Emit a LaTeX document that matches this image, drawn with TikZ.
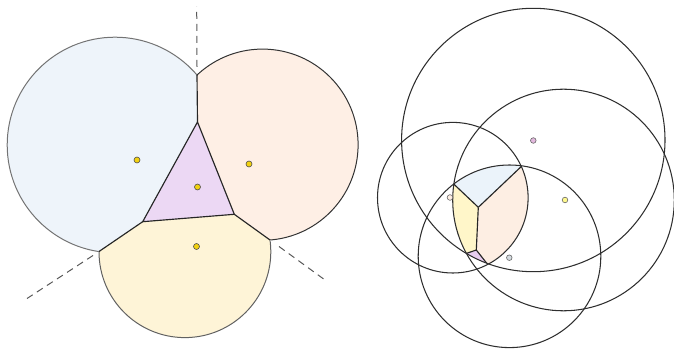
\documentclass[tikz,border=0pt]{standalone}
\usetikzlibrary{calc}
\definecolor{cblue}{HTML}{EEF4FA}
\definecolor{corange}{HTML}{FEEFE5}
\definecolor{cyellow}{HTML}{FEF4D7}
\definecolor{cpurple}{HTML}{ECD8F4}
\definecolor{rblue}{HTML}{EBF3FA}
\definecolor{rorange}{HTML}{FDEEE3}
\definecolor{ryellow}{HTML}{FFF6C9}
\definecolor{rpurple}{HTML}{E7CDF0}
\definecolor{dotyellow}{HTML}{F2D110}
\tikzset{
  rim/.style={line width=1pt},
  edge/.style={line width=1.15pt, draw=black!85},
  rayline/.style={line width=1pt, draw=black!65, dashed, dash pattern=on 7pt off 5pt},
  site/.style={circle, inner sep=0pt, minimum size=6pt, draw=black!70, line width=0.6pt, fill=dotyellow},
  rsite/.style={circle, inner sep=0pt, minimum size=5.6pt, draw=black!60, line width=0.6pt},
  ring/.style={line width=1.05pt, draw=black!82},
}
\begin{document}
\begin{tikzpicture}[x=1pt,y=-1pt]
\useasboundingbox (0,0) rectangle (674,352);
% ---------------- left figure ----------------
\coordinate (T) at (197.5,122);
\coordinate (L) at (142.7,221.7);
\coordinate (R) at (234.3,214.3);
\coordinate (BO) at (197,75);
\coordinate (BY) at (99,251.5);
\coordinate (OY) at (270,240);
\coordinate (cB) at (115,145);
\coordinate (cO) at (262.5,144.7);
\coordinate (cY) at (184.9,251.7);
% blue cell
\begin{scope}
  \clip (196.1,-10) -- (T) -- (L) -- (11.6,311.1) -- (-20,311) -- (-20,-10) -- cycle;
  \fill[cblue] (cB) circle[radius=107.8pt];
  \draw[rim, draw=black!55] (cB) circle[radius=107.8pt];
\end{scope}
% orange cell
\begin{scope}
  \clip (196.1,-10) -- (T) -- (R) -- (377.1,317.1) -- (390,317) -- (390,-10) -- cycle;
  \fill[corange] (cO) circle[radius=95.6pt];
  \draw[rim, draw=black!80] (cO) circle[radius=95.6pt];
\end{scope}
% yellow cell
\begin{scope}
  \clip (L) -- (R) -- (377.1,317.1) -- (377,360) -- (0,360) -- (11.6,311.1) -- cycle;
  \fill[cyellow] (cY) circle[radius=85.9pt];
  \draw[rim, draw=black!62] (cY) circle[radius=85.9pt];
\end{scope}
% purple cell
\fill[cpurple] (T) -- (L) -- (R) -- cycle;
\draw[edge, line join=round] (T) -- (L) -- (R) -- cycle;
\draw[edge] (T) -- (BO);
\draw[edge] (L) -- (BY);
\draw[edge] (R) -- (OY);
% dashed continuations
\coordinate (d1a) at (197,67);   \coordinate (d1b) at (196.7,7);
\coordinate (d2a) at (93,255.5); \coordinate (d2b) at (27,298.5);
\coordinate (d3a) at (279,246.5);\coordinate (d3b) at (325,280);
\draw[rayline] (d1a) -- (d1b);
\draw[rayline] (d2a) -- (d2b);
\draw[rayline] (d3a) -- (d3b);
% sites
\node[site] (sB) at (137,160) {};
\node[site] (sO) at (249,164) {};
\node[site] (sP) at (197.5,187) {};
\node[site] (sY) at (196.5,246.5) {};
% ---------------- right figure ----------------
\coordinate (k1) at (533.3,140);
\coordinate (k2) at (563.5,200);
\coordinate (k3) at (452.8,197.7);
\coordinate (k4) at (509.5,256.3);
\coordinate (C) at (478.3,207.3);
\coordinate (TL) at (454,184.3);
\coordinate (TR) at (521.2,166.6);
\coordinate (Bq) at (476.3,250);
\coordinate (P1) at (466.7,253.3);
\coordinate (P2) at (487.3,264);
\begin{scope}
  \clip (k1) circle[radius=131.7pt];
  \clip (k2) circle[radius=110.8pt];
  \clip (k3) circle[radius=75.3pt];
  \clip (k4) circle[radius=91.3pt];
  \fill[rorange] (370,100) rectangle (674,352);
  \fill[rblue] (C) -- ($(C)!3!(TL)$) -- ($(C)!3!(TR)$) -- cycle;
  \fill[ryellow] (C) -- ($(C)!3!(TL)$) -- (400,259.9) -- ($(Bq)!3!(P1)$) -- (Bq) -- cycle;
  \fill[rpurple] (Bq) -- ($(Bq)!3!(P1)$) -- (447.5,300) -- (509.3,300) -- ($(Bq)!3!(P2)$) -- cycle;
  \draw[edge] (C) -- ($(C)!3!(TL)$);
  \draw[edge] (C) -- ($(C)!3!(TR)$);
  \draw[edge] (C) -- (Bq);
  \draw[edge, line join=round] ($(Bq)!3!(P1)$) -- (Bq) -- ($(Bq)!3!(P2)$);
\end{scope}
\draw[ring] (k1) circle[radius=131.7pt];
\draw[ring] (k2) circle[radius=110.8pt];
\draw[ring] (k3) circle[radius=75.3pt];
\draw[ring] (k4) circle[radius=91.3pt];
\node[rsite, fill=rpurple!90!purple] (r1) at (533.3,140.5) {};
\node[rsite, fill=ryellow!70!yellow] (r2) at (565,200) {};
\node[rsite, fill=rorange] (r3) at (450,197.5) {};
\node[rsite, fill=rblue!80!gray] (r4) at (509.3,257.7) {};
\end{tikzpicture}
\end{document}
